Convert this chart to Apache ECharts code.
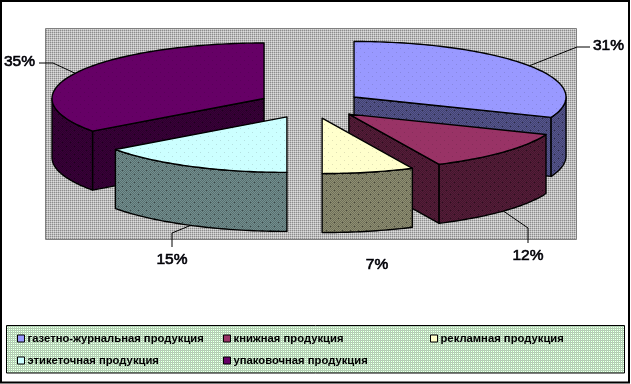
<!DOCTYPE html>
<html><head><meta charset="utf-8">
<style>html,body{margin:0;padding:0;background:#fff}#c{width:631px;height:384px}</style>
<script src="https://cdn.jsdelivr.net/npm/echarts@6/dist/echarts.min.js"></script>
</head><body><div id="c"></div>
<script>
const categories = ['газетно-журнальная продукция','книжная продукция','рекламная продукция','этикеточная продукция','упаковочная продукция'];
const values = [31, 12, 7, 15, 35];
const topColors = ['#9999ff','#993366','#ffffcc','#ccffff','#660066'];
const paintOrder = [2, 3, 5, 4, 1]; // z per category: purple, blue, red, cyan, yellow
const pie = {cx: 310.7, cy: 104.7, rx: 212, ry: 55.5, depth: 59, explode: 0.247};
const labelLayout = [
  {x: 593, y: 46, align: 'left', leader: [[577,47],[590,47]]},
  {x: 528, y: 256, align: 'center', leader: [[528,228],[528,243]]},
  {x: 377, y: 265, align: 'center', leader: null},
  {x: 172, y: 260, align: 'center', leader: [[172,233],[172,247]]},
  {x: 19.5, y: 62, align: 'center', leader: [[53,63],[39,63]]}
];
const legendPos = [[17,333],[223,333],[430,333],[17,355],[223,355]];

function tile(w, h, base, dots) {
  const c = document.createElement('canvas'); c.width = w; c.height = h;
  const g = c.getContext('2d'); g.fillStyle = base; g.fillRect(0, 0, w, h);
  dots.forEach(d => { g.fillStyle = d[2]; g.fillRect(d[0], d[1], 1, 1); });
  return {image: c, repeat: 'repeat'};
}
function shade(hex, f) {
  const n = parseInt(hex.slice(1), 16);
  return 'rgb(' + [n>>16, (n>>8)&255, n&255].map(v => Math.round(v*f)).join(',') + ')';
}
function topFill(col) {
  const d = shade(col, 0.88);
  return tile(8, 8, col, [[0,0,d],[4,4,d]]);
}
function wallFill(col) {
  const a = shade(col, 0.56), b = shade(col, 0.44), dk = shade(col, 0.28), dots = [];
  for (let y = 0; y < 8; y++) for (let x = 0; x < 8; x++) if ((x+y)%2) dots.push([x,y,b]);
  dots.push([2,2,dk],[6,6,dk]);
  return tile(8, 8, a, dots);
}
const plotFill = (function(){
  const dots = [];
  for (let y = 0; y < 4; y++) for (let x = 0; x < 4; x++) {
    if (x%2===0 && y%2===0) dots.push([x,y,'#8c8c8c']);
    else if (x%2===0 || y%2===0) dots.push([x,y,'#bcbcbc']);
  }
  return tile(4, 4, '#dcdcdc', dots);
})();
const legendFill = (function(){
  const dots = [];
  for (let y = 0; y < 4; y++) for (let x = 0; x < 4; x++) {
    if (x%2===0 && y%2===0) dots.push([x,y,'#c0c0c0']);
    else if (y%2===0) dots.push([x,y,'#a6dca6']);
    else if (x%2===0) dots.push([x,y,'#b0e0b0']);
  }
  return tile(4, 4, '#f4fff4', dots);
})();

const total = values.reduce((a,b) => a+b, 0);
function sliceAngles(i) {
  const before = values.slice(0, i).reduce((a,b) => a+b, 0);
  return [before/total*2*Math.PI, (before+values[i])/total*2*Math.PI];
}
function renderSlice(i) {
  const [a0, a1] = sliceAngles(i), mid = (a0+a1)/2;
  const cx = pie.cx + pie.explode*pie.rx*Math.sin(mid);
  const cy = pie.cy - pie.explode*pie.ry*Math.cos(mid);
  const P = (t, dz) => [cx + pie.rx*Math.sin(t), cy - pie.ry*Math.cos(t) + (dz||0)];
  const arc = (s, e, dz) => {
    const n = Math.max(2, Math.ceil(Math.abs(e-s)/0.02)), r = [];
    for (let k = 0; k <= n; k++) r.push(P(s+(e-s)*k/n, dz));
    return r;
  };
  const col = topColors[i], wall = wallFill(col), kids = [];
  const stroke = {stroke: '#000', lineWidth: 1.4, lineJoin: 'round'};
  const poly = (pts, fill, z2) => ({type:'polygon', z2, shape:{points:pts}, style:Object.assign({fill}, stroke)});
  const C = [cx, cy], D = [cx, cy+pie.depth];
  if (Math.sin(a0) < -1e-6) kids.push(poly([C, P(a0), P(a0,pie.depth), D], wall, 1));
  if (Math.sin(a1) > 1e-6)  kids.push(poly([C, P(a1), P(a1,pie.depth), D], wall, 1));
  const f0 = Math.max(a0, Math.PI/2), f1 = Math.min(a1, 1.5*Math.PI);
  if (f1 > f0) kids.push(poly(arc(f0,f1,0).concat(arc(f1,f0,pie.depth)), wall, 2));
  kids.push(poly([C].concat(arc(a0,a1,0)), topFill(col), 3));
  return {type:'group', children:kids};
}
function renderLabel(i) {
  const [a0, a1] = sliceAngles(i), mid = (a0+a1)/2, L = labelLayout[i], kids = [];
  const cx = pie.cx + pie.explode*pie.rx*Math.sin(mid);
  const cy = pie.cy - pie.explode*pie.ry*Math.cos(mid);
  const front = Math.cos(mid) < 0 ? pie.depth : 0;
  const start = [cx+pie.rx*Math.sin(mid), cy-pie.ry*Math.cos(mid)+front];
  if (L.leader) kids.push({type:'polyline', z2:5, shape:{points:[start].concat(L.leader)},
    style:{fill:null, stroke:'#000', lineWidth:1}});
  kids.push({type:'text', z2:6, x:L.x, y:L.y, style:{text:values[i]+'%', x:0, y:0, align:L.align, verticalAlign:'middle',
    font:'15.5px "Liberation Sans"', fill:'#000', stroke:'#223', lineWidth:0.7}});
  return {type:'group', children:kids};
}
const series = categories.map((name, i) => ({
  type:'custom', name, coordinateSystem:'none', silent:true, animation:false, z:paintOrder[i]+2,
  itemStyle:{color:topColors[i]}, data:[values[i]],
  renderItem:() => renderSlice(i)
}));
series.push({type:'custom', name:'labels', coordinateSystem:'none', silent:true, animation:false, z:20,
  data:values, renderItem:(p) => renderLabel(p.dataIndex)});

const chart = echarts.init(document.getElementById('c'), null, {renderer:'canvas'});
chart.setOption({
  animation:false,
  graphic:[
    {type:'rect', z:-10, silent:true, shape:{x:1,y:1,width:628,height:381.5}, style:{fill:'#fff',stroke:'#000',lineWidth:2}},
    {type:'rect', z:-9, silent:true, shape:{x:45.5,y:28.5,width:531,height:211}, style:{fill:plotFill,stroke:'#808080',lineWidth:1}},
    {type:'rect', z:-9, silent:true, shape:{x:6.5,y:325.5,width:618,height:47.5}, style:{fill:legendFill,stroke:'#000',lineWidth:1}}
  ],
  legend:categories.map((name,i) => ({
    data:[name], left:legendPos[i][0], top:legendPos[i][1], orient:'horizontal', selectedMode:false,
    icon:'rect', itemWidth:7, itemHeight:7, itemGap:0, padding:0, z:10,
    itemStyle:{borderColor:'#000', borderWidth:1},
    textStyle:{fontFamily:'Liberation Sans', fontSize:11.25, fontWeight:'bold', color:'#000', padding:[0,0,0,-2]}
  })),
  series
});
</script></body></html>
